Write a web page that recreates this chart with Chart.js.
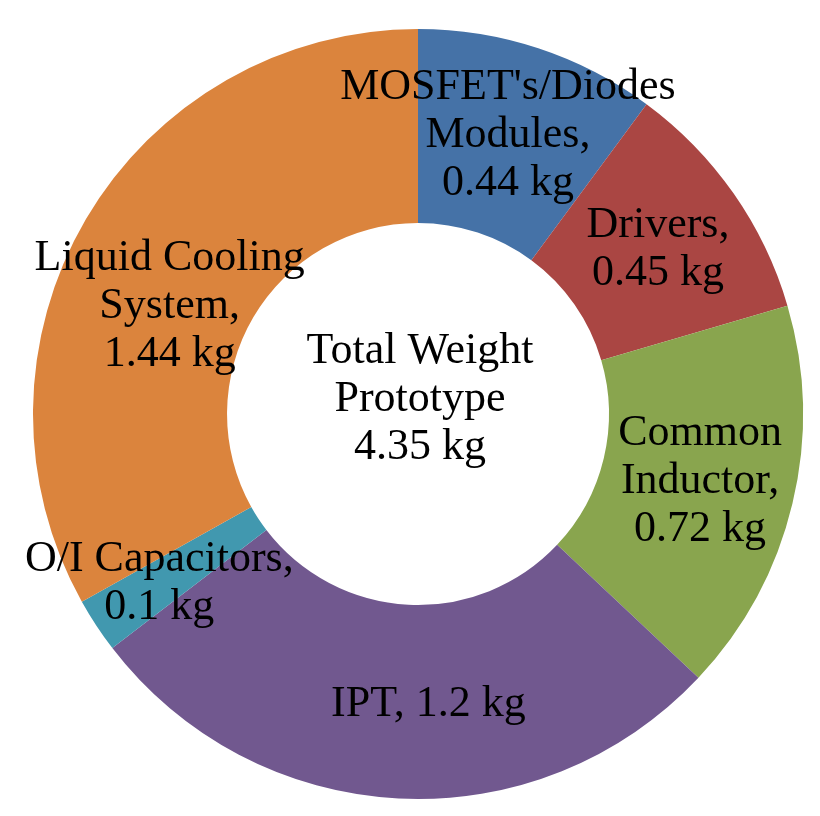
<!DOCTYPE html>
<html>
<head>
    <title>Weight Breakdown</title>
    <script src="https://cdn.jsdelivr.net/npm/chart.js@4.4.0/dist/chart.umd.min.js"></script>
    <style>
        html, body {
            margin: 0;
            padding: 0;
            background: #ffffff;
        }
        .chart-container {
            width: 820px;
            height: 816px;
        }
    </style>
</head>
<body>
    <div class="chart-container">
        <canvas id="weightChart"></canvas>
    </div>

    <script>
        // Chart data
        const categories = ["MOSFET's/Diodes Modules", 'Drivers', 'Common Inductor', 'IPT', 'O/I Capacitors', 'Liquid Cooling System'];
        const weights = [0.44, 0.45, 0.72, 1.2, 0.1, 1.44];
        const labelLines = [
            ["MOSFET's/Diodes", 'Modules,', '0.44 kg'],
            ['Drivers,', '0.45 kg'],
            ['Common', 'Inductor,', '0.72 kg'],
            ['IPT, 1.2 kg'],
            ['O/I Capacitors,', '0.1 kg'],
            ['Liquid Cooling', 'System,', '1.44 kg']
        ];
        const centerLines = ['Total Weight', 'Prototype', '4.35 kg'];

        const colors = ['#4572A7', '#AA4643', '#89A54E', '#71588F', '#4198AF', '#DB843D'];

        // small nudges so labels sit where Excel put them
        const labelNudge = [[0, -5], [4, 0], [2, 0], [25, 3], [-18, 11], [0, 38]];

        const fontFamily = '"Liberation Serif", "Times New Roman", serif';
        const fontSize = 44;
        const lineHeight = 48;

        function drawLines(ctx, lines, x, y) {
            const top = y - (lines.length - 1) * lineHeight / 2;
            lines.forEach((t, k) => ctx.fillText(t, x, top + k * lineHeight));
        }

        const labelPlugin = {
            id: 'sliceLabels',
            afterDatasetsDraw(chart) {
                const ctx = chart.ctx;
                const meta = chart.getDatasetMeta(0);
                ctx.save();
                ctx.font = fontSize + 'px ' + fontFamily;
                ctx.fillStyle = '#000000';
                ctx.textAlign = 'center';
                ctx.textBaseline = 'middle';
                meta.data.forEach((arc, i) => {
                    const p = arc.tooltipPosition();
                    drawLines(ctx, labelLines[i], p.x + labelNudge[i][0], p.y + labelNudge[i][1]);
                });
                const a = meta.data[0];
                drawLines(ctx, centerLines, a.x + 2, a.y - 15);
                ctx.restore();
            }
        };

        new Chart(document.getElementById('weightChart'), {
            type: 'doughnut',
            data: {
                labels: categories,
                datasets: [{
                    data: weights,
                    backgroundColor: colors,
                    borderWidth: 0
                }]
            },
            options: {
                responsive: true,
                maintainAspectRatio: false,
                animation: false,
                cutout: '49.6%',
                layout: {
                    padding: { top: 29, bottom: 17, left: 33, right: 17 }
                },
                plugins: {
                    legend: { display: false },
                    tooltip: { enabled: false }
                }
            },
            plugins: [labelPlugin]
        });
    </script>
</body>
</html>
